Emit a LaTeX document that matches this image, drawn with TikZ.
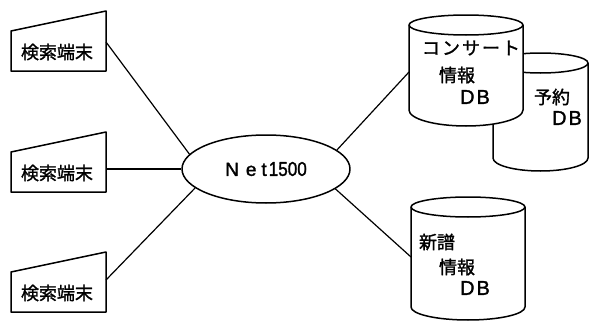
\documentclass[tikz,border=0pt]{standalone}
\usepackage{fontspec}
\setmainfont{Liberation Sans}
\newfontfamily\jpfont[FakeBold=1.4]{Noto Sans CJK JP}
\newfontfamily\labelfont[FakeBold=1.6]{Liberation Sans}
\usetikzlibrary{shapes.geometric}

\begin{document}
\begin{tikzpicture}[x=1pt,y=1pt,
  outline/.style={line width=1.5pt, line join=round},
  link/.style={line width=1.2pt},
  jtext/.style={font=\jpfont\fontsize{18}{18}\selectfont, inner sep=0pt},
  ltext/.style={font=\labelfont\fontsize{20}{20}\selectfont, inner sep=0pt},
  hub/.style={draw, ellipse, outline, minimum width=168pt, minimum height=68pt,
    inner sep=0pt, font=\labelfont\fontsize{19}{19}\selectfont},
]
\useasboundingbox (0,0) rectangle (590,325);

% search terminals (slanted-top boxes)
\foreach \n/\b in {1/254, 2/133, 3/13}{
  \draw[outline] (11,\b) -- (106,\b) -- (106,\b+60) -- (11,\b+40) -- cycle;
  \node[jtext] (term\n) at (57,\b+19) {検索端末};
}
\coordinate (tc1) at (106,283);
\coordinate (tc2) at (106,156);
\coordinate (tc3) at (106,45);

% network hub
\node[hub] (net) at (266,156) {N\hspace{7pt}e\hspace{5pt}t\hspace{2pt}\scalebox{0.9}[1.05]{1500}};

% reservation DB (behind)
\draw[outline, fill=white] (493,262) -- (493,167)
  arc[start angle=180, end angle=360, x radius=47.5, y radius=13]
  -- (588,262) arc[start angle=0, end angle=180, x radius=47.5, y radius=10] -- cycle;
\draw[outline] (493,262) arc[start angle=180, end angle=360, x radius=47.5, y radius=10];

% concert info DB (front)
\draw[outline, fill=white] (409,300) -- (409,215)
  arc[start angle=180, end angle=360, x radius=57, y radius=16]
  -- (523,300) arc[start angle=0, end angle=180, x radius=57, y radius=10] -- cycle;
\draw[outline] (409,300) arc[start angle=180, end angle=360, x radius=57, y radius=10];
\coordinate (db1) at (409,253);

% new release DB
\draw[outline, fill=white] (411,118) -- (411,18)
  arc[start angle=180, end angle=360, x radius=57, y radius=13]
  -- (525,118) arc[start angle=0, end angle=180, x radius=57, y radius=10] -- cycle;
\draw[outline] (411,118) arc[start angle=180, end angle=360, x radius=57, y radius=10];
\coordinate (db3) at (411,68);

% database labels
\node[jtext] (c1a) at (471,277) {コ\kern2ptン\kern2ptサ\kern2ptー\kern2ptト};
\node[jtext] (c1b) at (457,250) {情報};
\node[ltext] (c1c) at (475,228) {D\hspace{2pt}B};
\node[jtext] (c2a) at (552,228) {予約};
\node[ltext] (c2b) at (567,207) {D\hspace{2pt}B};
\node[jtext] (c3a) at (437,83) {新譜};
\node[jtext] (c3b) at (457,58) {情報};
\node[ltext] (c3c) at (475,37) {D\hspace{2pt}B};

% connections
\draw[link] (tc1) -- (net.169);
\draw[link] (tc2) -- (net.west);
\draw[link] (tc3) -- (net.195);
\draw[link] (net.15) -- (db1);
\draw[link] (net.344) -- (db3);
\end{tikzpicture}
\end{document}
